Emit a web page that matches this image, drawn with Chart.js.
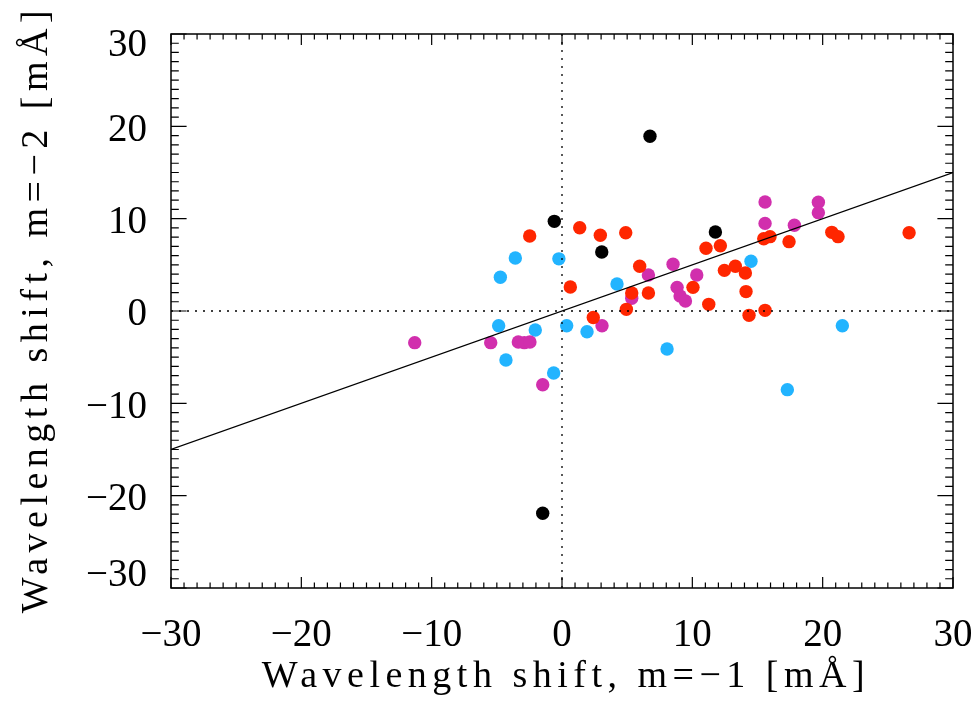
<!DOCTYPE html>
<html>
<head>
<meta charset="utf-8">
<script src="https://cdn.jsdelivr.net/npm/chart.js@4.4.1/dist/chart.umd.min.js"></script>
<style>
  html, body { margin: 0; padding: 0; background: #fff; }
  canvas { display: block; }
</style>
</head>
<body>
<canvas id="shift-chart" width="980" height="704"></canvas>
<script>
// values (mÅ)
const blueX = [-4.73, -3.58, -0.24, 4.22, 14.5, 0.36, 1.92, 8.06, -0.64, 17.29, 21.51, -4.86, -4.3, -2.05];
const blueY = [3.65, 5.74, 5.65, 2.92, 5.38, -1.59, -2.24, -4.12, -6.72, -8.52, -1.59, -1.59, -5.31, -2.06];

const magentaX = [6.63, 8.52, 10.34, 15.58, 15.58, 17.83, 19.67, 19.67, 5.35, 8.83, 9.06, 9.47, 3.07, -11.3, -5.47, -3.35, -2.89, -2.46, -1.48];
const magentaY = [3.9, 5.06, 3.9, 11.8, 9.49, 9.28, 11.77, 10.65, 1.37, 2.56, 1.62, 1.08, -1.59, -3.43, -3.43, -3.36, -3.43, -3.36, -7.98];

const redX = [-2.48, 1.36, 2.94, 4.89, 11.05, 12.15, 0.64, 5.96, 12.46, 13.3, 14.07, 15.48, 15.96, 17.42, 20.7, 21.18, 26.63, 5.35, 6.63, 10.05, 14.12, 11.26, 4.94, 15.58, 14.35, 2.4];
const redY = [8.12, 9.02, 8.2, 8.48, 6.79, 7.07, 2.6, 4.84, 4.4, 4.84, 4.12, 7.83, 8.05, 7.51, 8.52, 8.05, 8.48, 1.95, 1.95, 2.56, 2.1, 0.72, 0.18, 0.07, -0.47, -0.7];

const blackX = [-0.59, 6.75, 3.05, 11.77, -1.48];
const blackY = [9.71, 18.92, 6.39, 8.56, -21.9];

// fitted line y = 0.5 x, end points
const fitX = [-30, 30];
const fitY = [-15, 15];

// dotted zero lines
const zeroSpan = [-30, 30];

const axisMin = -30;
const axisMax = 30;
const xTitle = 'Wavelength shift, m=\u22121 [mÅ]';
const yTitle = 'Wavelength shift, m=\u22122 [mÅ]';

const toPoints = (xs, ys) => xs.map((x, i) => ({ x: x, y: ys[i] }));
const fmt = v => (v < 0 ? '\u2212' + Math.abs(v) : String(v));

Chart.defaults.font.family = '"Liberation Serif", serif';
Chart.defaults.color = '#000';

function dots(data, color, order) {
    return {
        type: 'scatter',
        data: data,
        backgroundColor: color,
        borderWidth: 0,
        pointRadius: 6.7,
        pointHoverRadius: 6.7,
        order: order
    };
}

function refLine(data, dash, order) {
    return {
        type: 'line',
        data: data,
        borderColor: '#000',
        borderWidth: 1.3,
        borderDash: dash,
        pointRadius: 0,
        fill: false,
        tension: 0,
        order: order
    };
}

// frame, inward ticks on four sides and axis titles
const framePlugin = {
    id: 'frame',
    afterDraw(chart) {
        const { ctx, chartArea: a, scales: { x, y } } = chart;
        ctx.save();
        ctx.strokeStyle = '#000';
        ctx.lineWidth = 1.2;
        ctx.beginPath();
        for (let v = axisMin; v <= axisMax; v++) {
            const major = v % 10 === 0;
            const px = x.getPixelForValue(v);
            const tx = major ? 11 : 5.5;
            ctx.moveTo(px, a.bottom); ctx.lineTo(px, a.bottom - tx);
            ctx.moveTo(px, a.top); ctx.lineTo(px, a.top + tx);
            const py = y.getPixelForValue(v);
            const ty = major ? 15.6 : 7.8;
            ctx.moveTo(a.left, py); ctx.lineTo(a.left + ty, py);
            ctx.moveTo(a.right, py); ctx.lineTo(a.right - ty, py);
        }
        ctx.stroke();
        ctx.lineWidth = 1.5;
        ctx.strokeRect(a.left, a.top, a.right - a.left, a.bottom - a.top);

        ctx.fillStyle = '#000';
        ctx.font = '38px "Liberation Serif"';
        ctx.letterSpacing = '5.5px';
        ctx.textAlign = 'center';
        ctx.textBaseline = 'alphabetic';
        ctx.fillText(xTitle, (a.left + a.right) / 2 + 4, 687);
        ctx.translate(47, (a.top + a.bottom) / 2 - 2);
        ctx.rotate(-Math.PI / 2);
        ctx.fillText(yTitle, 0, 0);
        ctx.restore();
    }
};

const ctx = document.getElementById('shift-chart').getContext('2d');
const chart = new Chart(ctx, {
    data: {
        datasets: [
            refLine(toPoints(fitX, fitY), [], 0),
            refLine(toPoints([0, 0], zeroSpan), [2, 6], 0),
            refLine(toPoints(zeroSpan, [0, 0]), [2, 6], 0),
            dots(toPoints(blackX, blackY), '#000000', 1),
            dots(toPoints(redX, redY), '#ff2600', 2),
            dots(toPoints(magentaX, magentaY), '#d12fad', 3),
            dots(toPoints(blueX, blueY), '#22b4ff', 4)
        ]
    },
    options: {
        responsive: false,
        animation: false,
        devicePixelRatio: 1,
        layout: {
            padding: { left: 0, right: 27, top: 34, bottom: 0 }
        },
        scales: {
            x: {
                type: 'linear',
                min: axisMin,
                max: axisMax,
                grid: { display: false },
                border: { display: false },
                ticks: {
                    stepSize: 10,
                    autoSkip: false,
                    maxRotation: 0,
                    padding: 16,
                    font: { size: 39 },
                    callback: v => fmt(v)
                },
                afterFit: scale => {
                    scale.height = 116;
                    scale.paddingLeft = 0;
                    scale.paddingRight = 0;
                }
            },
            y: {
                type: 'linear',
                min: axisMin,
                max: axisMax,
                grid: { display: false },
                border: { display: false },
                ticks: {
                    stepSize: 10,
                    autoSkip: false,
                    padding: 16,
                    font: { size: 39, lineHeight: '8px' },
                    callback: v => {
                        if (v === axisMax) return ['', '', '', fmt(v)];
                        if (v === axisMin) return [fmt(v), '', '', ''];
                        return ['', fmt(v)];
                    }
                },
                afterFit: scale => {
                    scale.width = 171;
                    scale.paddingTop = 0;
                    scale.paddingBottom = 0;
                }
            }
        },
        plugins: {
            legend: { display: false },
            tooltip: { enabled: false },
            title: { display: false }
        }
    },
    plugins: [framePlugin]
});
</script>
</body>
</html>
